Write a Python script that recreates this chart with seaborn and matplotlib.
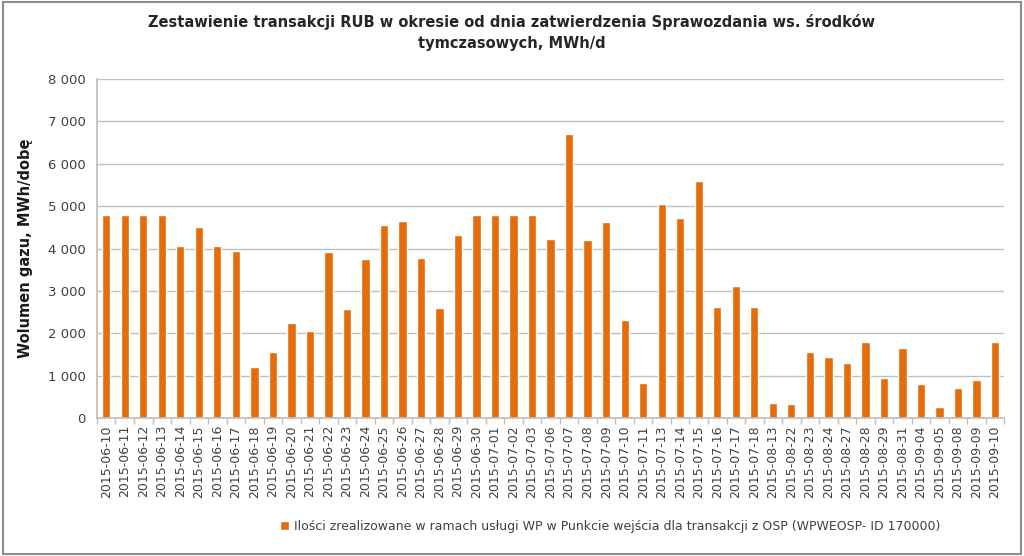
import pandas as pd
import matplotlib.pyplot as plt
import seaborn as sns
from matplotlib.patches import Rectangle
from matplotlib.ticker import FuncFormatter, FixedLocator

sns.set_theme(style="white")
plt.rcParams['font.family'] = ['DejaVu Sans']

# dates (trading days) and daily volumes, MWh/d
dates = [
    "2015-06-10", "2015-06-11", "2015-06-12", "2015-06-13", "2015-06-14",
    "2015-06-15", "2015-06-16", "2015-06-17", "2015-06-18", "2015-06-19",
    "2015-06-20", "2015-06-21", "2015-06-22", "2015-06-23", "2015-06-24",
    "2015-06-25", "2015-06-26", "2015-06-27", "2015-06-28", "2015-06-29",
    "2015-06-30", "2015-07-01", "2015-07-02", "2015-07-03", "2015-07-06",
    "2015-07-07", "2015-07-08", "2015-07-09", "2015-07-10", "2015-07-11",
    "2015-07-13", "2015-07-14", "2015-07-15", "2015-07-16", "2015-07-17",
    "2015-07-18", "2015-08-13", "2015-08-22", "2015-08-23", "2015-08-24",
    "2015-08-27", "2015-08-28", "2015-08-29", "2015-08-31", "2015-09-04",
    "2015-09-05", "2015-09-08", "2015-09-09", "2015-09-10",
]
volumes = [
    4790, 4790, 4790, 4790, 4065, 4515, 4065, 3945, 1200, 1555,
    2255, 2065, 3915, 2565, 3755, 4560, 4650, 3770, 2590, 4330,
    4790, 4790, 4790, 4790, 4230, 6710, 4205, 4625, 2320, 840,
    5050, 4730, 5595, 2620, 3110, 2620, 345, 325, 1555, 1430,
    1310, 1785, 955, 1650, 805, 270, 710, 900, 1785,
]
series_name = ("Ilości zrealizowane w ramach usługi WP w Punkcie wejścia dla "
               "transakcji z OSP (WPWEOSP- ID 170000)")

df = pd.DataFrame({"data": dates, "wolumen": volumes, "seria": series_name})

fig = plt.figure(figsize=(10.24, 5.56), dpi=100)
ax = fig.add_axes([0.0947, 0.248, 0.886, 0.61])

sns.barplot(data=df, x="data", y="wolumen", hue="seria", palette=["#E46C0A"],
            width=0.45, dodge=False, saturation=1, ax=ax)

ax.set_ylim(0, 8000)
ax.set_yticks(range(0, 8001, 1000))
ax.yaxis.set_major_formatter(FuncFormatter(lambda v, p: f"{int(v):,}".replace(",", " ")))
ax.set_xlim(-0.5, len(dates) - 0.5)
ax.grid(axis="y", color="#BFBFBF", linewidth=1.0)
ax.set_axisbelow(True)
for s in ["top", "right"]:
    ax.spines[s].set_visible(False)
ax.spines["left"].set_color("#BFBFBF")
ax.spines["bottom"].set_color("#BFBFBF")

ax.tick_params(axis="x", which="major", length=0, labelrotation=90,
               labelsize=9, labelcolor="#404040", pad=5)
ax.tick_params(axis="y", length=0, labelsize=9.5, labelcolor="#404040", pad=8)
ax.xaxis.set_minor_locator(FixedLocator([i + 0.5 for i in range(-1, len(dates))]))
ax.tick_params(axis="x", which="minor", bottom=True, length=4, color="#BFBFBF")

ax.set_xlabel("")
ax.set_ylabel("Wolumen gazu, MWh/dobę", fontsize=10.5, fontweight="bold",
              color="#1a1a1a", labelpad=11)

fig.suptitle("Zestawienie transakcji RUB w okresie od dnia zatwierdzenia Sprawozdania ws. środków\n"
             "tymczasowych, MWh/d", fontsize=10.5, fontweight="bold", y=0.975,
             linespacing=1.5)

sns.move_legend(ax, "center", bbox_to_anchor=(0.566, -0.32), title=None, frameon=False,
                fontsize=9, handlelength=0.7, handleheight=0.7, handletextpad=0.4,
                labelcolor="#404040")

fig.patches.append(Rectangle((0.003, 0.004), 0.994, 0.992, transform=fig.transFigure,
                             fill=False, edgecolor="#8C8C8C", linewidth=1.5))

plt.savefig("out.png", dpi=100)
